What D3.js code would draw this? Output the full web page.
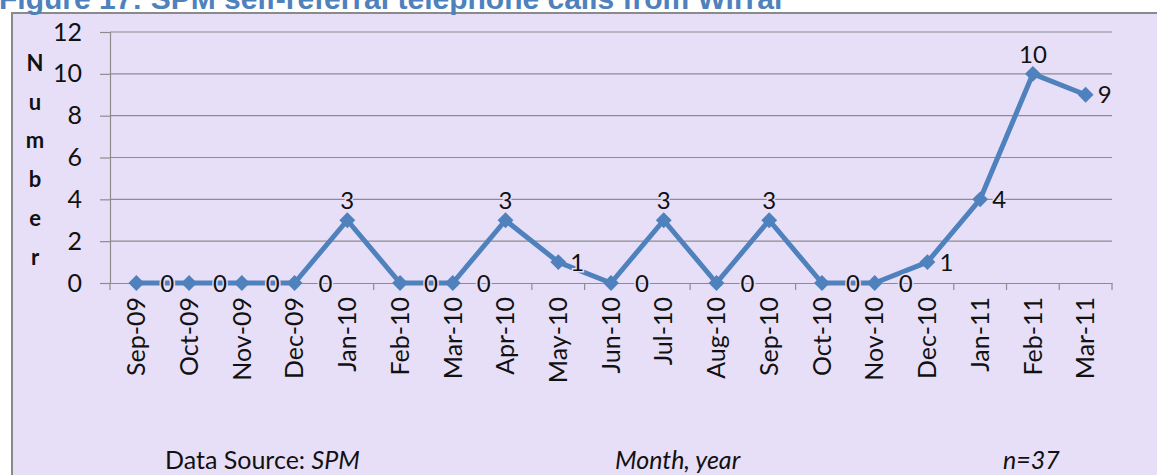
<!DOCTYPE html>
<html>
<head>
<meta charset="utf-8">
<script src="https://cdn.jsdelivr.net/npm/d3@7"></script>
<style>
  body { margin: 0; background: #fff; }
  svg { display: block; }
</style>
</head>
<body>
<div id="chart"></div>
<script>
// data
var months = ["Sep-09", "Oct-09", "Nov-09", "Dec-09", "Jan-10", "Feb-10", "Mar-10",
  "Apr-10", "May-10", "Jun-10", "Jul-10", "Aug-10", "Sep-10", "Oct-10", "Nov-10",
  "Dec-10", "Jan-11", "Feb-11", "Mar-11"];
var calls = [0, 0, 0, 0, 3, 0, 0, 3, 1, 0, 3, 0, 3, 0, 0, 1, 4, 10, 9];
var labelSide = ["r", "r", "r", "r", "t", "r", "r", "t", "r", "r", "t", "r", "t", "r", "r",
  "r", "r", "t", "r"];
var yTicks = [0, 2, 4, 6, 8, 10, 12];

var width = 1157, height = 475;
var font = "Lato, 'Open Sans', sans-serif";
var bg = "#E7DFF8";

var svg = d3.select("#chart").append("svg")
  .attr("width", width)
  .attr("height", height);

// chart area background + border
svg.append("rect")
  .attr("x", 13).attr("y", 14)
  .attr("width", width - 13).attr("height", height - 14)
  .style("fill", bg);
svg.append("path")
  .attr("d", "M12," + height + "V13H" + width)
  .style("fill", "none")
  .style("stroke", "#8a8a8a")
  .style("stroke-width", "2px");

// title (cut off at the top in the original)
svg.append("text")
  .attr("x", -1).attr("y", 9)
  .text("Figure 17: SPM self-referral telephone calls from Wirral")
  .style("font-family", "Arial, 'Liberation Sans', sans-serif")
  .style("font-weight", "bold")
  .style("font-size", "30px")
  .style("fill", "#4F81BD");

var x = d3.scaleBand().domain(months).range([110, 1112]);
var y = d3.scaleLinear().domain([0, 12]).range([283, 32]);

function cx(d) { return x(d) + x.bandwidth() / 2; }

// gridlines
svg.append("g")
  .selectAll("line")
  .data(yTicks.filter(function(d) { return d > 0; }))
  .enter().append("line")
  .attr("x1", 110).attr("x2", 1112)
  .attr("y1", function(d) { return y(d); })
  .attr("y2", function(d) { return y(d); })
  .style("stroke", "#8c8c8c")
  .style("stroke-width", "1.2px");

// y axis
var yAxis = svg.append("g")
  .attr("transform", "translate(110,0)")
  .call(d3.axisLeft(y).tickValues(yTicks).tickSize(10).tickPadding(18));
yAxis.select(".domain").style("stroke", "#8c8c8c").style("stroke-width", "1.2px");
yAxis.selectAll(".tick line").style("stroke", "#8c8c8c").style("stroke-width", "1.2px");
yAxis.selectAll(".tick text")
  .style("font-family", font)
  .style("font-size", "25px")
  .style("fill", "#111");

// y axis title, one letter per line
svg.append("g")
  .selectAll("text")
  .data("Number".split(""))
  .enter().append("text")
  .attr("x", 35)
  .attr("y", function(d, i) { return 63 + i * 38.8; })
  .attr("dy", "0.35em")
  .attr("text-anchor", "middle")
  .text(function(d) { return d; })
  .style("font-family", font)
  .style("font-weight", "bold")
  .style("font-size", "22px")
  .style("fill", "#111");

// x axis
var xAxis = svg.append("g")
  .attr("transform", "translate(0,283)")
  .call(d3.axisBottom(x).tickSize(0).tickPadding(14));
xAxis.select(".domain").style("stroke", "#8c8c8c").style("stroke-width", "1.2px");
xAxis.selectAll(".tick text")
  .attr("transform", "rotate(-90)")
  .attr("text-anchor", "end")
  .attr("x", -14)
  .attr("y", 0)
  .attr("dy", "0.35em")
  .style("font-family", font)
  .style("font-size", "25px")
  .style("fill", "#111");

// boundary ticks on the x axis
svg.append("g")
  .selectAll("line")
  .data(months.concat(["end"]))
  .enter().append("line")
  .attr("x1", function(d, i) { return 110 + i * x.step(); })
  .attr("x2", function(d, i) { return 110 + i * x.step(); })
  .attr("y1", 283).attr("y2", 290)
  .style("stroke", "#8c8c8c")
  .style("stroke-width", "1.2px");

// line + markers
var line = d3.line()
  .x(function(d, i) { return cx(months[i]); })
  .y(function(d) { return y(d); });

svg.append("path")
  .datum(calls)
  .attr("d", line)
  .style("fill", "none")
  .style("stroke", "#4F81BD")
  .style("stroke-width", "5px")
  .style("stroke-linejoin", "round");

svg.append("g")
  .selectAll("path")
  .data(calls)
  .enter().append("path")
  .attr("d", d3.symbol().type(d3.symbolDiamond2).size(160))
  .attr("transform", function(d, i) {
    return "translate(" + cx(months[i]) + "," + y(d) + ")";
  })
  .style("fill", "#4F81BD");

// data labels
svg.append("g")
  .selectAll("text")
  .data(calls)
  .enter().append("text")
  .attr("x", function(d, i) {
    if (labelSide[i] === "t") return cx(months[i]);
    return cx(months[i]) + (d === 0 ? 24 : 12);
  })
  .attr("y", function(d, i) {
    return labelSide[i] === "t" ? y(d) - 11 : y(d);
  })
  .attr("dy", function(d, i) { return labelSide[i] === "t" ? "0" : "0.36em"; })
  .attr("text-anchor", function(d, i) { return labelSide[i] === "t" ? "middle" : "start"; })
  .text(function(d) { return d; })
  .style("font-family", font)
  .style("font-size", "24px")
  .style("fill", "#111")
  .style("stroke", bg)
  .style("stroke-width", "3px")
  .style("paint-order", "stroke");

// footer notes
var foot = svg.append("g")
  .style("font-family", font)
  .style("font-size", "25px")
  .style("fill", "#111");
var src = foot.append("text").attr("x", 165).attr("y", 469);
src.append("tspan").text("Data Source:  ");
src.append("tspan").style("font-style", "italic").text("SPM");
foot.append("text").attr("x", 615).attr("y", 469)
  .style("font-style", "italic").text("Month, year");
foot.append("text").attr("x", 1003).attr("y", 469)
  .style("font-style", "italic").text("n=37");
</script>
</body>
</html>
